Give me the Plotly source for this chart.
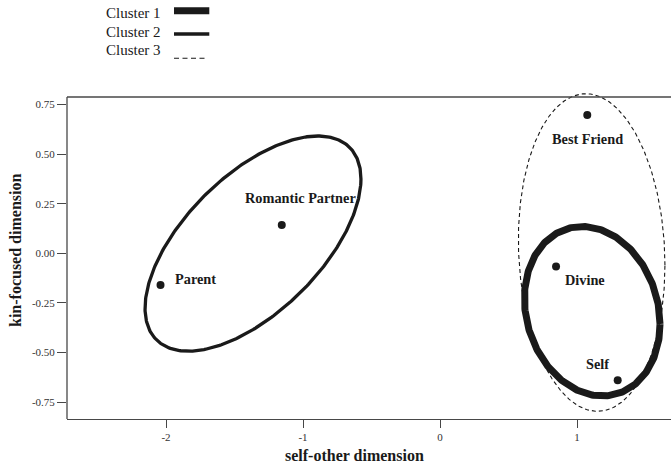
import numpy as np
import plotly.graph_objects as go

# ---- data ----
names = ["Parent", "Romantic Partner", "Best Friend", "Divine", "Self"]
x_vals = [-2.04, -1.155, 1.075, 0.847, 1.297]
y_vals = [-0.16, 0.143, 0.697, -0.067, -0.64]

cluster_names = ["Cluster 1", "Cluster 2", "Cluster 3"]
cl_cx = [1.111, -1.365, 1.107]
cl_cy = [-0.292, 0.049, 0.004]
cl_hx = [0.495, 0.788, 0.535]
cl_hy = [0.427, 0.542, 0.800]
cl_rho = [-0.15, 0.60, -0.08]

x_ticks = [-2, -1, 0, 1]
x_ticktext = ["-2", "-1", "0", "1"]
y_ticks = [-0.75, -0.5, -0.25, 0.0, 0.25, 0.5, 0.75]
y_ticktext = ["-0.75", "-0.50", "-0.25", "0.00", "0.25", "0.50", "0.75"]

# ---- styles / layout ----
INK = "#1a1a1a"
AX = "#474747"
SERIF = "Liberation Serif, Times New Roman, serif"
cl_width = [7, 3.3, 1.1]
cl_dash = ["solid", "solid", "4px,3px"]

# label placement (pixel offsets from point): xshift, yshift, xanchor
label_pos = [(12, 5.7, "left"), (19, 26.7, "center"), (0, -24.3, "center"),
             (7.3, -13.3, "left"), (-19.7, 16.7, "center")]

W, H = 671, 466
# plot area in page pixels
P_LEFT, P_RIGHT, P_TOP, P_BOTTOM = 67, 671, 86, 419
L, R, T, B = P_LEFT, W - P_RIGHT, P_TOP, H - P_BOTTOM
pw, ph = P_RIGHT - P_LEFT, P_BOTTOM - P_TOP


def px2paper(px, py):
    return (px - P_LEFT) / pw, (P_BOTTOM - py) / ph


fig = go.Figure()

t = np.linspace(0, 2 * np.pi, 361)
for i in range(3):
    ex = cl_cx[i] + cl_hx[i] * np.cos(t)
    ey = cl_cy[i] + cl_hy[i] * (cl_rho[i] * np.cos(t) + np.sqrt(1 - cl_rho[i] ** 2) * np.sin(t))
    fig.add_trace(go.Scatter(x=ex, y=ey, mode="lines", name=cluster_names[i],
                             line=dict(color=INK, width=cl_width[i], dash=cl_dash[i]),
                             hoverinfo="skip", showlegend=False))

fig.add_trace(go.Scatter(x=x_vals, y=y_vals, mode="markers", text=names,
                         marker=dict(color=INK, size=8), showlegend=False,
                         hoverinfo="text"))

for n, xv, yv, (xs, ys, xa) in zip(names, x_vals, y_vals, label_pos):
    fig.add_annotation(x=xv, y=yv, text="<b>%s</b>" % n, showarrow=False,
                       xshift=xs, yshift=ys, xanchor=xa, yanchor="middle",
                       font=dict(family=SERIF, size=14.3, color=INK))

# axis titles
ax_x, ax_y = px2paper(15, 251)
fig.add_annotation(xref="paper", yref="paper", x=ax_x, y=ax_y, textangle=-90,
                   text="<b>kin-focused dimension</b>", showarrow=False,
                   xanchor="center", yanchor="middle",
                   font=dict(family=SERIF, size=16, color=INK))
tx, ty = px2paper(354, 455)
fig.add_annotation(xref="paper", yref="paper", x=tx, y=ty,
                   text="<b>self-other dimension</b>", showarrow=False,
                   xanchor="center", yanchor="middle",
                   font=dict(family=SERIF, size=16, color=INK))

# frame lines (top and left)
_, ytop = px2paper(67, 97)
fig.add_shape(type="line", xref="paper", yref="paper", x0=0, y0=ytop, x1=1, y1=ytop,
              line=dict(color=AX, width=1.3))
fig.add_shape(type="line", xref="paper", yref="paper", x0=0, y0=0, x1=0, y1=ytop,
              line=dict(color=AX, width=1.3))

# legend (text left of line sample)
leg_text_y = [13.0, 32.0, 50.3]
leg_line_y = [10.7, 34.0, 58.3]
for i in range(3):
    ax_, ay_ = px2paper(162.7, leg_text_y[i])
    fig.add_annotation(xref="paper", yref="paper", x=ax_, y=ay_, text=cluster_names[i],
                       showarrow=False, xanchor="right", yanchor="middle",
                       font=dict(family=SERIF, size=15, color=INK))
    lx0, ly = px2paper(174, leg_line_y[i])
    lx1, _ = px2paper(209.3 if i < 2 else 207, leg_line_y[i])
    fig.add_shape(type="line", xref="paper", yref="paper", x0=lx0, y0=ly, x1=lx1, y1=ly,
                  line=dict(color=INK, width=cl_width[i] if i < 2 else 1.1,
                            dash=cl_dash[i] if i < 2 else "5px,3.5px"))

x_min = (P_LEFT - 440) / 137
x_max = (P_RIGHT - 440) / 137
y_max = (253.3 - P_TOP) / 198.5
y_min = (253.3 - P_BOTTOM) / 198.5

fig.update_layout(
    width=W, height=H,
    margin=dict(l=L, r=R, t=T, b=B, pad=0),
    paper_bgcolor="white", plot_bgcolor="white",
    showlegend=False,
    font=dict(family=SERIF, color="#333333"),
    xaxis=dict(range=[x_min, x_max], showgrid=False, zeroline=False,
               showline=True, linecolor=AX, linewidth=1.3,
               ticks="outside", ticklen=8, tickwidth=1.2, tickcolor=AX,
               tickvals=x_ticks, ticktext=x_ticktext,
               tickfont=dict(family=SERIF, size=11, color="#333333")),
    yaxis=dict(range=[y_min, y_max], showgrid=False, zeroline=False,
               showline=False,
               ticks="outside", ticklen=9, tickwidth=1.2, tickcolor=AX,
               tickvals=y_ticks, ticktext=y_ticktext,
               tickfont=dict(family=SERIF, size=11, color="#333333")),
)

fig.write_html("out.html", config={"displayModeBar": False},
               post_script="document.body.style.margin='0px';document.body.style.overflow='hidden';")
